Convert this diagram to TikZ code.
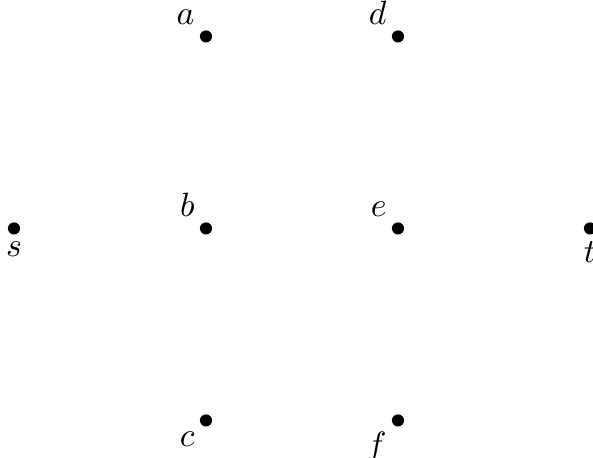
\documentclass[tikz,border=0pt]{standalone}
\usepackage{amsmath,amssymb}
\usepackage{tikz}
\usetikzlibrary{positioning}

\begin{document}
\begin{tikzpicture}[
    vtx/.style={circle, fill=black, inner sep=0pt, minimum size=3.6pt},
    every label/.style={inner sep=1.8pt},
]
\useasboundingbox (-0.146,-2.39) rectangle (6.031,2.38);

% Vertices
\node[vtx, label=below:$s$] (s) at (0,0) {};
\node[vtx, label=above left:$a$] (a) at (2,2) {};
\node[vtx, label=above left:$b$] (b) at (2,0) {};
\node[vtx, label=below left:$c$] (c) at (2,-2) {};
\node[vtx, label=above left:$d$] (d) at (4,2) {};
\node[vtx, label=above left:$e$] (e) at (4,0) {};
\node[vtx, label=below left:$f$] (f) at (4,-2) {};
\node[vtx, label=below:$t$] (t) at (6,0) {};

\end{tikzpicture}
\end{document}
